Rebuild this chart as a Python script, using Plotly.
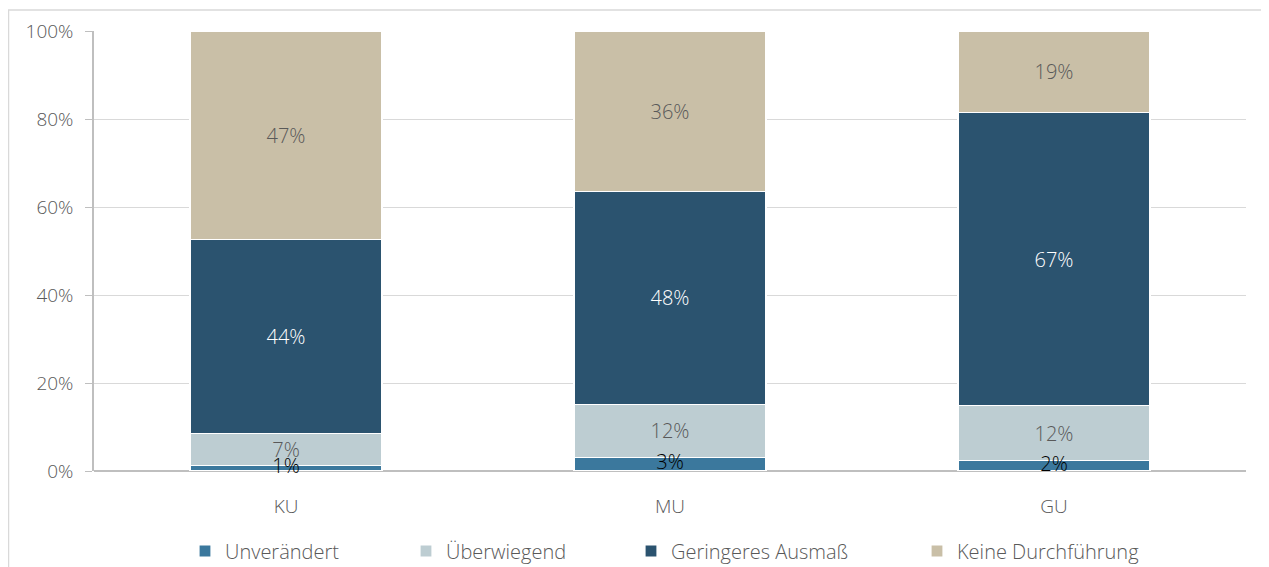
import plotly.graph_objects as go

categories = ["KU", "MU", "GU"]
series_names = ["Unverändert", "Überwiegend", "Geringeres Ausmaß", "Keine Durchführung"]
unveraendert = [1.2, 3.0, 2.3]
ueberwiegend = [7.3, 12.2, 12.5]
geringeres = [44.1, 48.4, 66.6]
keine = [47.4, 36.4, 18.6]
tick_vals = [0, 20, 40, 60, 80, 100]
tick_text = ["0%", "20%", "40%", "60%", "80%", "100%"]

series_values = [unveraendert, ueberwiegend, geringeres, keine]
colors = ["#3b789d", "#bdcdd2", "#2b536f", "#c9bfa7"]
text_colors = ["#000000", "#595959", "#ffffff", "#595959"]

FONT = "Open Sans"
W, H = 1261, 559
L, R, T, B = 86, 23, 23, 96
PW, PH = W - L - R, H - T - B

legend_text_x = [217, 438, 663, 949]
legend_ids = ["legend", "legend2", "legend3", "legend4"]

def pct(v):
    return f"{round(v):.0f}%"

fig = go.Figure()
for i, (name, vals, col, tcol, lid) in enumerate(zip(series_names, series_values, colors, text_colors, legend_ids)):
    fig.add_trace(go.Bar(
        x=categories, y=vals, name=name, legend=lid,
        marker=dict(color=col, line=dict(color="#ffffff", width=1.2)),
        text=None if i == 0 else [pct(v) for v in vals],
        textposition="inside", insidetextanchor="middle",
        constraintext="none", textangle=0, cliponaxis=False,
        textfont=dict(family=FONT, size=20, color=tcol, weight=300),
        hoverinfo="skip",
    ))

# labels of the thin bottom segments, drawn over the axis like the original
fig.add_trace(go.Scatter(
    x=categories, y=[v / 2 for v in unveraendert], mode="text",
    text=[pct(v) for v in unveraendert], cliponaxis=False, showlegend=False,
    textfont=dict(family=FONT, size=20, color=text_colors[0], weight=300),
    hoverinfo="skip",
))

legend_layout = {}
for lid, tx in zip(legend_ids, legend_text_x):
    legend_layout[lid] = dict(
        orientation="h", x=(tx - 40 - L) / PW, xanchor="left",
        y=-(543 - (T + PH)) / PH, yanchor="middle",
        font=dict(family=FONT, size=20, color="#595959", weight=300),
        bgcolor="rgba(0,0,0,0)", borderwidth=0,
    )

fig.update_layout(
    barmode="stack", bargap=0.5,
    width=W, height=H,
    margin=dict(l=L, r=R, t=T, b=B, autoexpand=False),
    paper_bgcolor="#ffffff", plot_bgcolor="#ffffff",
    font=dict(family=FONT, color="#595959", size=19),
    showlegend=True,
    **legend_layout,
)
fig.update_xaxes(showgrid=False, showline=False, ticks="",
                 ticklabelstandoff=22,
                 tickfont=dict(family=FONT, size=19, color="#595959", weight=300))
fig.update_yaxes(range=[0, 100], tickvals=tick_vals, ticktext=tick_text,
                 showgrid=True, gridcolor="#d9d9d9", gridwidth=1,
                 zeroline=True, zerolinecolor="#bfbfbf", zerolinewidth=1.5,
                 showline=True, linecolor="#bfbfbf", linewidth=1.5,
                 ticks="outside", ticklen=7, tickcolor="#bfbfbf",
                 ticklabelstandoff=8, layer="below traces",
                 tickfont=dict(family=FONT, size=19, color="#595959", weight=300))

fig.add_shape(type="rect", xref="paper", yref="paper",
              x0=(0.5 - L) / PW, x1=(W + 20 - L) / PW,
              y0=-(H + 20 - (T + PH)) / PH, y1=(T + PH - 2) / PH,
              line=dict(color="#d9d9d9", width=1.5), fillcolor="rgba(0,0,0,0)", layer="below")

fig.write_html("out.html")
